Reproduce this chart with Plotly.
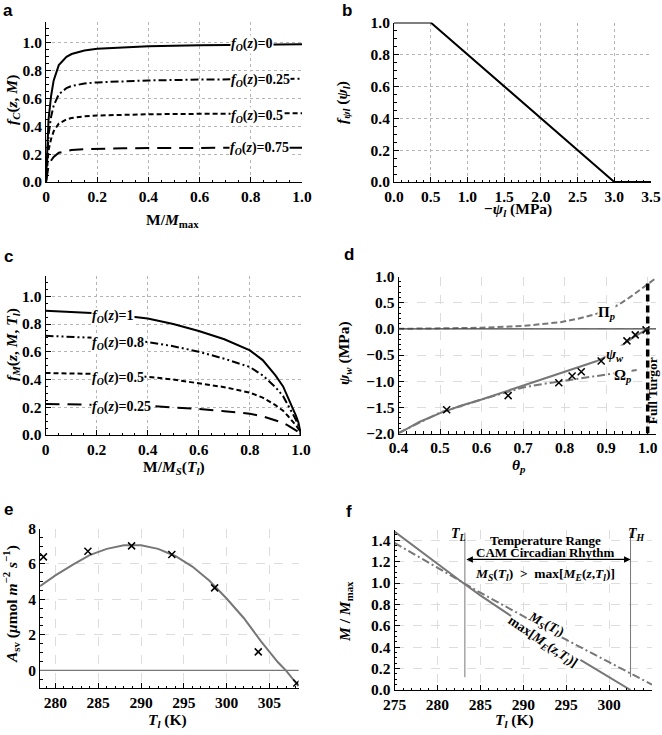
import plotly.graph_objects as go

W, H = 662, 735
SERIF = "Liberation Serif"
GRAY = "#777777"

# ---- panel a : f_C(z, M) ----
a_m = [0, 0.005, 0.01, 0.02, 0.03, 0.05, 0.08, 0.1, 0.15, 0.2, 0.3, 0.4, 0.6, 0.8, 1.0]
a_fo0 = [0, 0.3, 0.45, 0.62, 0.73, 0.84, 0.9, 0.92, 0.945, 0.957, 0.968, 0.975, 0.982, 0.986, 0.99]
a_fo25 = [0, 0.22, 0.34, 0.47, 0.55, 0.63, 0.675, 0.69, 0.708, 0.716, 0.725, 0.73, 0.736, 0.739, 0.742]
a_fo50 = [0, 0.15, 0.23, 0.31, 0.365, 0.42, 0.45, 0.46, 0.472, 0.478, 0.484, 0.487, 0.49, 0.492, 0.494]
a_fo75 = [0, 0.075, 0.115, 0.155, 0.18, 0.21, 0.225, 0.23, 0.236, 0.239, 0.242, 0.244, 0.245, 0.246, 0.247]

# ---- panel b : f_psi ----
b_psi = [0, 0.5, 3.0, 3.5]
b_f = [1, 1, 0, 0]

# ---- panel c : f_M(z, M, T) ----
c_m = [0, 0.1, 0.2, 0.3, 0.4, 0.5, 0.6, 0.7, 0.8, 0.85, 0.9, 0.93, 0.95, 0.97, 0.98, 0.99, 1.0]
c_fo1 = [0.895, 0.887, 0.878, 0.862, 0.84, 0.8, 0.75, 0.69, 0.61, 0.54, 0.43, 0.35, 0.27, 0.19, 0.14, 0.09, 0.0]
c_fo08 = [0.715, 0.71, 0.7, 0.69, 0.67, 0.64, 0.6, 0.55, 0.49, 0.43, 0.345, 0.28, 0.215, 0.15, 0.11, 0.07, 0.0]
c_fo05 = [0.447, 0.444, 0.44, 0.43, 0.42, 0.4, 0.375, 0.345, 0.305, 0.27, 0.215, 0.175, 0.135, 0.095, 0.07, 0.045, 0.0]
c_fo025 = [0.224, 0.222, 0.22, 0.215, 0.21, 0.2, 0.188, 0.172, 0.153, 0.135, 0.108, 0.088, 0.068, 0.048, 0.035, 0.022, 0.0]

# ---- panel d : water potential ----
d_theta = [0.4, 0.45, 0.5, 0.55, 0.6, 0.65, 0.7, 0.75, 0.8, 0.85, 0.876, 0.9, 0.92, 0.944, 0.97, 1.0]
d_psi = [-2.0, -1.78, -1.61, -1.47, -1.35, -1.22, -1.09, -0.96, -0.83, -0.7, -0.62, -0.53, -0.43, -0.28, -0.14, 0.0]
d_pi_theta = [0.4, 0.5, 0.6, 0.7, 0.75, 0.79, 0.83, 0.87, 0.9, 0.93, 0.96, 0.98, 1.0, 1.02]
d_pi = [0.0, 0.005, 0.02, 0.055, 0.09, 0.127, 0.19, 0.27, 0.35, 0.46, 0.62, 0.74, 0.86, 0.97]
d_om_theta = [0.4, 0.5, 0.6, 0.7, 0.75, 0.8, 0.85, 0.9, 0.95, 0.98]
d_om = [-1.99, -1.6, -1.35, -1.12, -1.05, -0.99, -0.93, -0.87, -0.82, -0.78]
d_obs_theta = [0.516, 0.664, 0.786, 0.818, 0.84, 0.888, 0.95, 0.97, 0.996]
d_obs_psi = [-1.545, -1.276, -1.03, -0.9, -0.82, -0.615, -0.23, -0.115, -0.02]

# ---- panel e : A_sv vs leaf temperature ----
e_T = [278.2, 280, 282, 284, 286, 288, 290, 292, 294, 296, 298, 300, 302, 304, 306, 307, 308.4]
e_A = [4.75, 5.35, 5.95, 6.5, 6.85, 7.05, 7.05, 6.85, 6.45, 5.85, 5.05, 4.05, 2.95, 1.65, 0.45, -0.05, -0.9]
e_obs_T = [278.6, 283.8, 288.9, 293.6, 298.6, 303.7, 308.2]
e_obs_A = [6.4, 6.72, 7.02, 6.53, 4.65, 1.04, -0.72]

# ---- panel f : M/Mmax vs leaf temperature ----
f_T_me = [275, 277, 279, 281, 283, 285, 287, 289, 291, 293, 295, 297, 299, 301, 302.5]
f_me = [1.48, 1.36, 1.235, 1.115, 1.0, 0.885, 0.775, 0.67, 0.565, 0.46, 0.36, 0.265, 0.17, 0.075, 0.0]
f_T_ms = [275, 280, 283, 285, 290, 295, 300, 302.5, 305]
f_ms = [1.375, 1.14, 1.0, 0.91, 0.69, 0.47, 0.26, 0.157, 0.05]
f_TL, f_TH = 283.2, 302.5


def px_x(p):
    return p / W


def px_y(p):
    return 1 - p / H


TICKFONT = dict(family=SERIF, size=15.5, color="black", weight="bold")


def axis(dom, rng, vals, texts, minor_dtick, anchor, griddash="dot", gridcolor="#b5b5b5"):
    return dict(
        domain=dom, range=rng, anchor=anchor, automargin=False,
        tickmode="array", tickvals=vals, ticktext=texts,
        ticks="inside", ticklen=5, tickwidth=1, tickcolor="black",
        showline=True, linecolor="black", linewidth=1,
        showgrid=True, gridcolor=gridcolor, griddash=griddash, gridwidth=1,
        zeroline=False, tickfont=TICKFONT,
        minor=dict(ticks="inside", ticklen=2.5, tickcolor="black",
                   tickmode="linear", tick0=0, dtick=minor_dtick, showgrid=False),
    )


fig = go.Figure()

def line(x, y, ax, color="black", dash="solid", width=2):
    fig.add_trace(go.Scatter(x=x, y=y, mode="lines", xaxis="x" + ax, yaxis="y" + ax,
                             line=dict(color=color, dash=dash, width=width),
                             hoverinfo="skip"))

# a
line(a_m, a_fo0, "")
line(a_m, a_fo25, "", dash="8px,3px,2px,3px")
line(a_m, a_fo50, "", dash="5px,3px")
line(a_m, a_fo75, "", dash="14px,8px")
# b
line(b_psi, b_f, "2")
# c
line(c_m, c_fo1, "3")
line(c_m, c_fo08, "3", dash="8px,3px,2px,3px,2px,3px")
line(c_m, c_fo05, "3", dash="5px,3px")
line(c_m, c_fo025, "3", dash="14px,8px")
# d
line(d_pi_theta, d_pi, "4", color=GRAY, dash="6px,3px")
line(d_om_theta, d_om, "4", color=GRAY, dash="8px,3px,2px,3px")
line(d_theta, d_psi, "4", color=GRAY)
fig.add_trace(go.Scatter(x=[1.0, 1.0], y=[-2.0, 0.87], mode="lines", xaxis="x4", yaxis="y4",
                         line=dict(color="black", width=3.5, dash="7px,4px"), hoverinfo="skip"))
fig.add_trace(go.Scatter(x=d_obs_theta, y=d_obs_psi, mode="markers", xaxis="x4", yaxis="y4",
                         marker=dict(symbol="x-thin", size=7, line=dict(width=1.5, color="black")),
                         hoverinfo="skip"))
# e
line(e_T, e_A, "5", color=GRAY)
fig.add_trace(go.Scatter(x=e_obs_T, y=e_obs_A, mode="markers", xaxis="x5", yaxis="y5",
                         marker=dict(symbol="x-thin", size=7, line=dict(width=1.5, color="black")),
                         hoverinfo="skip"))
# f
line(f_T_me, f_me, "6", color=GRAY)
line(f_T_ms, f_ms, "6", color=GRAY, dash="8px,3px,2px,3px")
line([f_TL, f_TL], [0.12, 1.47], "6", color=GRAY, width=1)
line([f_TH, f_TH], [0.12, 1.47], "6", color=GRAY, width=1)

# reference lines at zero
fig.add_shape(type="line", xref="x4 domain", yref="y4", x0=0, x1=1, y0=0, y1=0,
              line=dict(color="#444444", width=1.2))
fig.add_shape(type="line", xref="x5 domain", yref="y5", x0=0, x1=1, y0=0, y1=0,
              line=dict(color=GRAY, width=1.2))

dec1 = lambda vals: [f"{v:.1f}" for v in vals]
a_x = [0, 0.2, 0.4, 0.6, 0.8, 1.0]
a_y = [0, 0.2, 0.4, 0.6, 0.8, 1.0]
b_x = [0, 0.5, 1.0, 1.5, 2.0, 2.5, 3.0, 3.5]
d_x = [0.4, 0.5, 0.6, 0.7, 0.8, 0.9, 1.0]
d_y = [-2.0, -1.5, -1.0, -0.5, 0.0, 0.5, 1.0]
e_x = [280, 285, 290, 295, 300, 305]
e_y = [0, 2, 4, 6, 8]
f_x = [275, 280, 285, 290, 295, 300, 305]
f_y = [0, 0.2, 0.4, 0.6, 0.8, 1.0, 1.2, 1.4]
zero_first = ["0"] + dec1(a_x[1:])
minus = lambda vals: [f"{v:.1f}".replace("-", "−") for v in vals]

LIGHT = "#dddddd"
fig.update_layout(
    template="none",
    font=dict(family=SERIF, size=13, color="black", weight="bold"),
    xaxis=axis([px_x(46), px_x(302)], [0, 1.0], a_x, zero_first, 0.05, "y"),
    yaxis=axis([px_y(182), px_y(22)], [0, 1.15], a_y, dec1(a_y), 0.05, "x"),
    xaxis2=axis([px_x(394), px_x(651)], [0, 3.5], b_x, dec1(b_x), 0.1, "y2"),
    yaxis2=axis([px_y(182), px_y(22.5)], [0, 1.0], a_y, dec1(a_y), 0.05, "x2"),
    xaxis3=axis([px_x(45.5), px_x(301)], [0, 1.0], a_x, zero_first, 0.05, "y3"),
    yaxis3=axis([px_y(435), px_y(275.5)], [0, 1.15], a_y, dec1(a_y), 0.05, "x3"),
    xaxis4=axis([px_x(398.5), px_x(656)], [0.4, 1.02], d_x, dec1(d_x), 0.02, "y4", "dash", LIGHT),
    yaxis4=axis([px_y(433.5), px_y(276.5)], [-2.0, 1.0], d_y, minus(d_y), 0.1, "x4", "dash", LIGHT),
    xaxis5=axis([px_x(40), px_x(298.5)], [278.2, 308.4], e_x, [str(v) for v in e_x], 1, "y5", "dash", LIGHT),
    yaxis5=axis([px_y(688), px_y(528.5)], [-1, 8], e_y, [str(v) for v in e_y], 0.5, "x5", "dash", LIGHT),
    xaxis6=axis([px_x(394.5), px_x(652)], [275, 305], f_x, [str(v) for v in f_x], 1, "y6", "dash", LIGHT),
    yaxis6=axis([px_y(690), px_y(529.5)], [0, 1.5], f_y, dec1(f_y), 0.05, "x6", "dash", LIGHT),
)

ann = []

def note(text, x, y, ref="", size=13, bg="rgba(0,0,0,0)", angle=0, xanchor="center", yanchor="middle"):
    d = dict(text=text, x=x, y=y, showarrow=False, textangle=angle, xanchor=xanchor, yanchor=yanchor,
             font=dict(family=SERIF, size=size, color="black", weight="bold"), bgcolor=bg, borderpad=0)
    if ref == "paper":
        d.update(xref="paper", yref="paper")
    else:
        d.update(xref="x" + ref, yref="y" + ref)
    ann.append(d)

# panel letters
for letter, cx, cy in [("a", 8, 10), ("b", 347, 10), ("c", 8, 256), ("d", 349, 254), ("e", 8, 509), ("f", 349, 512)]:
    ann.append(dict(text=letter, x=px_x(cx), y=px_y(cy), xref="paper", yref="paper", showarrow=False,
                    xanchor="center", yanchor="middle",
                    font=dict(family="Liberation Sans", size=17, color="black", weight="bold")))

# axis titles
fo = "<i>f</i><sub><i>O</i></sub>(<i>z</i>)="
titles = [
    ("M/<i>M</i><sub>max</sub>", 172, 221, 0),
    ("<i>f</i><sub><i>C</i></sub>(<i>z</i>, <i>M</i>)", 12, 100, -90),
    ("−<i>ψ</i><sub><i>l</i></sub> (MPa)", 518, 209, 0),
    ("<i>f</i><sub><i>ψl</i></sub> (<i>ψ</i><sub><i>l</i></sub>)", 343, 103, -90),
    ("M/<i>M</i><sub><i>S</i></sub>(<i>T</i><sub><i>l</i></sub>)", 174, 467, 0),
    ("<i>f</i><sub><i>M</i></sub>(<i>z</i>, <i>M</i>, <i>T</i><sub><i>l</i></sub>)", 12, 345, -90),
    ("<i>θ</i><sub><i>p</i></sub>", 519, 465, 0),
    ("<i>ψ</i><sub><i>w</i></sub> (MPa)", 344, 353, -90),
    ("<i>T</i><sub><i>l</i></sub> (K)", 167, 720, 0),
    ("<i>A</i><sub>sv</sub> (<i>μ</i>mol <i>m</i><sup>−2</sup> <i>s</i><sup>−1</sup>)", 11, 604, -90),
    ("<i>T</i><sub><i>l</i></sub> (K)", 514, 720, 0),
    ("<i>M</i> / <i>M</i><sub>max</sub>", 345, 612, -90),
]
for t, cx, cy, ang in titles:
    note(t, px_x(cx), px_y(cy), ref="paper", size=15.5, angle=ang)

# panel a curve labels
note(fo + "0", 0.72, 0.99, "", size=14, bg="white", xanchor="left")
note(fo + "0.25", 0.72, 0.728, "", size=14, bg="white", xanchor="left")
note(fo + "0.5", 0.72, 0.47, "", size=14, bg="white", xanchor="left")
note(fo + "0.75", 0.715, 0.243, "", size=14, bg="white", xanchor="left")
# panel c curve labels
note(fo + "1", 0.18, 0.855, "3", size=14, bg="white", xanchor="left")
note(fo + "0.8", 0.18, 0.663, "3", size=14, bg="white", xanchor="left")
note(fo + "0.5", 0.18, 0.41, "3", size=14, bg="white", xanchor="left")
note(fo + "0.25", 0.18, 0.2, "3", size=14, bg="white", xanchor="left")
# panel d labels
note("Π<sub><i>p</i></sub>", 0.9, 0.3, "4", size=15, bg="white")
note("<i>ψ</i><sub><i>w</i></sub>", 0.922, -0.5, "4", size=15, bg="white")
note("Ω<sub><i>p</i></sub>", 0.94, -0.9, "4", size=15, bg="white")
note("Full Turgor", 1.011, -1.19, "4", size=13.5, angle=-90)
# panel f labels
note("<i>T</i><sub><i>L</i></sub>", 282.4, 1.45, "6", size=14)
note("<i>T</i><sub><i>H</i></sub>", 303.2, 1.45, "6", size=14)
note("Temperature Range", 292.6, 1.395, "6", size=13)
note("CAM Circadian Rhythm", 292.6, 1.285, "6", size=13)
note("<i>M</i><sub><i>S</i></sub>(<i>T</i><sub><i>l</i></sub>)  >  max[<i>M</i><sub><i>E</i></sub>(<i>z</i>,<i>T</i><sub><i>l</i></sub>)]",
     292.5, 1.08, "6", size=13.5)
note("<i>M</i><sub><i>S</i></sub>(<i>T</i><sub><i>l</i></sub>)", 292.6, 0.615, "6", size=13.5, bg="white", angle=27)
note("max[<i>M</i><sub><i>E</i></sub>(<i>z</i>,<i>T</i><sub><i>l</i></sub>)]", 292.3, 0.44, "6", size=13.5, bg="white", angle=34)
ann.append(dict(x=f_TH, y=1.22, ax=f_TL, ay=1.22, xref="x6", yref="y6", axref="x6", ayref="y6",
                text="", showarrow=True, arrowhead=2, arrowside="end+start", arrowsize=1,
                arrowwidth=1.3, arrowcolor="black"))

fig.update_layout(
    width=W, height=H, margin=dict(l=0, r=0, t=0, b=0),
    paper_bgcolor="white", plot_bgcolor="white", showlegend=False,
    annotations=ann,
)

# the page's default body margin would shift the figure by 8px
fig.write_html("out.html", config={"displayModeBar": False},
               post_script="document.body.style.margin='0px';")
